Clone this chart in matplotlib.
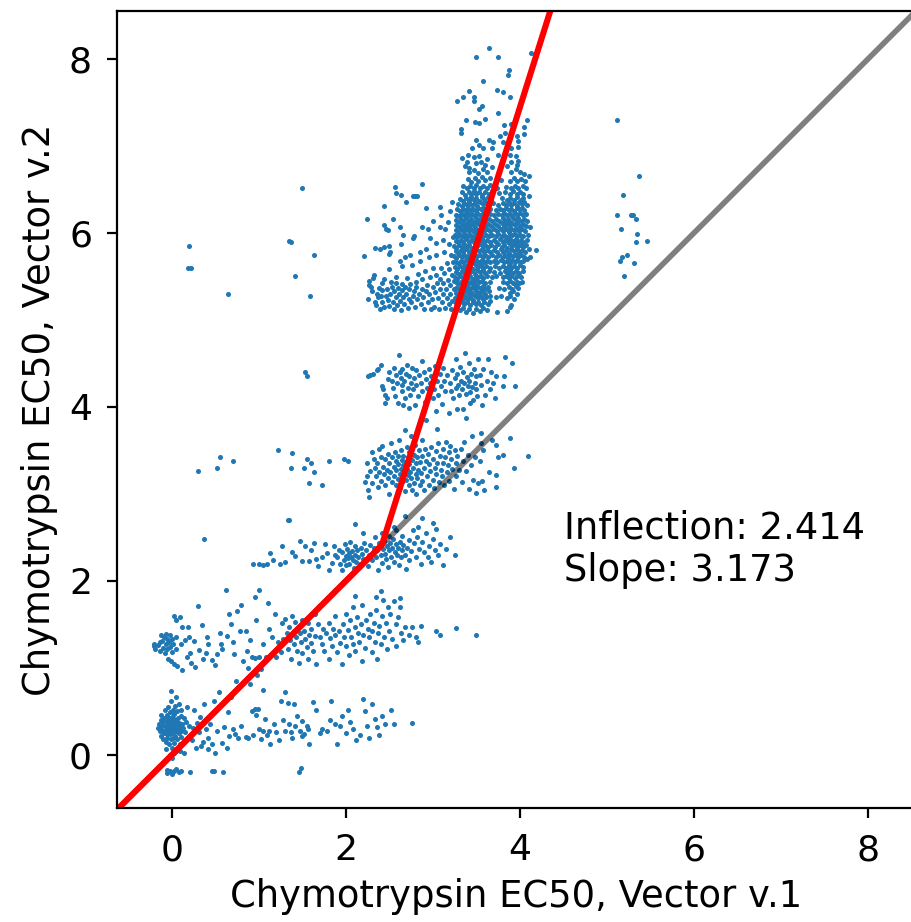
#!/usr/bin/env python3
"""Chymotrypsin EC50 comparison between the two vector versions."""

import matplotlib

matplotlib.use("Agg")
import matplotlib.pyplot as plt

# points, one list per band of the scatter
BAND_0 = [
    (-0.06,-0.17),(-0.05,-0.21),(-0.02,-0.19),(0.0,-0.22),(0.02,-0.18),(0.05,-0.16),(0.08,-0.2),(0.1,-0.18),(0.21,-0.2),(0.46,-0.19),(0.49,-0.18),(0.59,-0.2),(1.46,-0.2),(1.48,-0.15),
    (-0.16,0.31),(-0.15,0.35),(-0.14,0.27),(-0.13,0.4),(-0.13,0.22),(-0.12,0.33),(-0.12,0.46),(-0.11,0.29),(-0.1,0.38),(-0.1,0.18),(-0.09,0.25),(-0.09,0.43),(-0.08,0.33),(-0.08,0.52),(-0.07,0.29),(-0.07,0.15),(-0.06,0.39),(-0.06,0.24),(-0.05,0.46),(-0.05,0.32),(-0.05,0.2),(-0.04,0.36),(-0.04,0.27),(-0.04,0.55),(-0.03,0.42),(-0.03,0.31),(-0.03,0.12),(-0.02,0.24),(-0.02,0.35),(-0.02,0.49),(-0.01,0.29),(-0.01,0.4),(-0.01,0.18),(-0.01,0.62),(0.0,0.33),(0.0,0.25),(0.0,0.44),(0.0,0.08),(0.01,0.37),(0.01,0.29),(0.01,0.52),(0.01,0.2),(0.02,0.41),(0.02,0.33),(0.02,0.14),(0.03,0.27),(0.03,0.47),(0.03,0.36),(0.04,0.22),(0.04,0.56),(0.04,0.31),(0.05,0.4),(0.05,0.28),(0.05,0.05),(0.06,0.35),(0.06,0.18),(0.06,0.5),(0.07,0.3),(0.07,0.43),(0.08,0.25),(0.08,0.37),(0.08,0.59),(0.09,0.33),(0.09,0.12),(0.1,0.45),(0.1,0.28),(0.11,0.21),(0.11,0.52),(0.12,0.36),(0.13,0.31),(0.14,0.43),(0.14,0.02),(0.15,0.26),(0.16,0.38),(0.17,0.55),(-0.02,0.0),(0.0,-0.03),(0.03,0.02),(-0.07,0.07),(0.09,0.04),(-0.01,0.74),(0.05,0.67),
    (0.2,0.33),(0.23,0.17),(0.24,0.31),(0.26,0.52),(0.28,0.08),(0.29,0.37),(0.31,0.26),(0.32,0.44),(0.34,0.1),(0.36,0.15),(0.37,0.58),(0.39,0.3),(0.41,0.07),(0.42,0.19),(0.44,0.35),(0.46,0.12),(0.48,0.62),(0.5,0.02),(0.52,0.27),(0.54,0.72),(0.58,0.14),(0.6,0.32),(0.63,0.08),(0.64,0.49),(0.66,0.22),(0.7,0.3),(0.73,0.24),(0.76,0.19),(0.68,0.67),(0.74,0.85),(0.78,0.79),(0.8,0.33),(0.85,0.21),(0.88,0.19),(0.92,0.5),(0.93,0.23),(0.95,0.53),(0.97,0.46),(0.99,0.53),(1.0,0.3),(1.02,0.18),(1.05,0.27),(1.07,0.41),(1.09,0.23),(1.12,0.28),(1.13,0.12),(1.17,0.35),(1.2,0.26),(1.23,0.17),(1.25,0.62),(1.28,0.4),(1.3,0.27),(1.33,0.6),(1.35,0.36),(1.37,0.26),(1.38,0.19),(1.4,0.58),(1.42,0.33),(1.44,0.45),(1.47,0.27),(1.5,0.39),(1.52,0.24),(1.55,0.33),(1.57,0.3),(1.58,0.13),(1.62,0.61),(1.66,0.52),(1.7,0.25),(1.72,0.3),(1.78,0.27),(1.82,0.4),(1.83,0.62),(1.88,0.35),(1.9,0.12),(1.93,0.33),(1.96,0.45),(2.0,0.25),(2.02,0.52),(2.05,0.38),(2.08,0.3),(2.12,0.17),(2.16,0.23),(2.2,0.64),(2.22,0.5),(2.24,0.33),(2.26,0.2),(2.3,0.58),(2.34,0.41),(2.36,0.32),(2.38,0.23),(2.42,0.45),(2.45,0.36),(2.52,0.52),(2.55,0.36),(2.76,0.37),(1.5,0.22),(0.98,0.92),(1.3,0.72),(1.05,0.75),(0.9,0.82),
]

BAND_1 = [
    (-0.21,1.27),(-0.2,1.25),(-0.19,1.22),(-0.16,1.26),(-0.14,1.3),(-0.14,1.2),(-0.12,1.38),(-0.11,1.31),(-0.1,1.23),(-0.09,1.35),(-0.08,1.17),(-0.07,1.28),(-0.07,1.39),(-0.06,1.33),(-0.05,1.22),(-0.04,1.1),(-0.03,1.3),(-0.02,1.38),(-0.02,1.24),(-0.01,1.08),(0.0,1.33),(0.0,1.18),(0.01,1.28),(0.03,1.04),(0.05,1.36),(0.05,1.22),(0.06,1.02),(0.1,1.27),(0.12,0.98),(0.15,1.32),(0.18,1.12),(0.2,1.36),(0.22,1.06),(0.25,1.31),(0.27,1.01),(0.05,1.55),(0.03,1.6),(0.09,1.58),(0.12,1.47),(0.19,1.47),(0.21,1.17),(0.3,1.71),(0.31,1.21),(0.36,1.1),(0.39,1.17),(0.42,1.27),(0.4,1.36),(0.35,1.49),(0.46,1.09),(0.5,1.03),(0.52,1.16),(0.55,1.4),(0.56,1.28),(0.58,1.22),(0.62,1.89),(0.63,1.37),(0.66,1.62),(0.68,1.51),(0.7,1.3),(0.72,1.16),(0.75,1.65),(0.78,1.43),(0.8,1.72),(0.82,1.08),(0.85,1.43),(0.86,1.2),(0.88,1.0),(0.9,1.32),(0.92,1.13),(0.95,1.11),(0.97,1.55),(1.0,1.12),(1.02,0.99),(1.05,1.27),(1.08,1.13),(1.1,1.75),(1.12,1.45),(1.15,1.35),(1.18,1.62),(1.2,1.12),(1.22,1.3),(1.25,1.18),(1.27,1.52),(1.28,1.33),(1.3,1.56),(1.32,1.4),(1.33,1.22),(1.35,1.47),(1.36,1.32),(1.37,1.1),(1.38,1.6),(1.4,1.42),(1.4,1.28),(1.42,1.53),(1.43,1.35),(1.44,1.2),(1.45,1.46),(1.46,1.06),(1.47,1.4),(1.48,1.3),(1.5,1.55),(1.5,1.17),(1.52,1.43),(1.53,1.33),(1.55,1.24),(1.56,1.52),(1.57,1.1),(1.58,1.38),(1.6,1.45),(1.6,1.29),(1.62,1.2),(1.64,1.37),(1.65,1.62),(1.66,1.05),(1.68,1.5),(1.7,1.35),(1.72,1.27),(1.74,1.45),(1.75,1.2),(1.77,1.4),(1.8,1.52),(1.8,1.1),(1.82,1.34),(1.84,1.25),(1.85,1.45),(1.87,1.6),(1.88,1.38),(1.9,1.18),(1.92,1.42),(1.93,1.29),(1.95,1.05),(1.97,1.5),(1.98,1.35),(2.0,1.62),(2.0,1.25),(2.02,1.44),(2.03,1.15),(2.05,1.55),(2.06,1.36),(2.08,1.28),(2.08,1.7),(2.1,1.47),(2.11,1.2),(2.13,1.58),(2.14,1.4),(2.15,1.3),(2.17,1.5),(2.18,1.08),(2.19,1.72),(2.2,1.38),(2.22,1.23),(2.23,1.55),(2.25,1.45),(2.26,1.35),(2.28,1.62),(2.3,1.18),(2.3,1.42),(2.32,1.52),(2.33,1.3),(2.35,1.66),(2.36,1.1),(2.37,1.4),(2.38,1.48),(2.4,1.28),(2.41,1.6),(2.43,1.78),(2.44,1.36),(2.46,1.52),(2.47,1.22),(2.48,1.7),(2.5,1.42),(2.51,1.62),(2.53,1.33),(2.55,1.77),(2.57,1.5),(2.58,1.25),(2.6,1.58),(2.62,1.7),(2.63,1.4),(2.66,1.32),(2.68,1.47),(2.72,1.38),(2.76,1.47),(2.8,1.35),(2.83,1.3),(2.86,1.48),(3.03,1.42),(3.08,1.38),(2.1,1.83),(2.35,1.82),(2.62,1.8),(2.4,1.88),(3.27,1.46),(3.5,1.38),(1.0,1.9),(0.95,1.82),
]

BAND_2 = [
    (0.93,2.19),(1.0,2.19),(1.05,2.18),(1.09,2.19),(1.13,2.32),(1.16,2.24),(1.26,2.4),(1.35,2.7),(1.24,2.19),(1.3,2.22),(1.38,2.33),(1.41,2.29),(1.47,2.46),(1.5,2.23),(1.53,2.4),(1.58,2.23),(1.6,2.35),(1.63,2.43),(1.66,2.25),(1.68,2.17),(1.72,2.27),(1.76,2.42),(1.78,2.32),(1.81,2.13),(1.84,2.21),(1.86,2.4),(1.88,2.3),(1.9,2.28),(1.92,2.36),(1.93,2.2),(1.95,2.12),(1.96,2.33),(1.98,2.24),(1.99,2.42),(2.0,2.29),(2.0,2.18),(2.01,2.37),(2.02,2.26),(2.03,2.32),(2.04,2.2),(2.05,2.45),(2.06,2.28),(2.07,2.34),(2.08,2.24),(2.09,2.15),(2.1,2.3),(2.11,2.4),(2.12,2.22),(2.13,2.35),(2.14,2.28),(2.16,2.19),(2.17,2.38),(2.18,2.31),(2.2,2.25),(2.21,2.44),(2.23,2.36),(2.25,2.17),(2.26,2.3),(2.28,2.41),(2.3,2.24),(2.32,2.38),(2.33,2.5),(2.35,2.28),(2.36,2.35),(2.37,2.12),(2.38,2.43),(2.4,2.3),(2.41,2.55),(2.42,2.21),(2.43,2.37),(2.44,2.46),(2.45,2.31),(2.46,2.25),(2.47,2.4),(2.48,2.16),(2.49,2.52),(2.5,2.35),(2.51,2.44),(2.52,2.28),(2.53,2.38),(2.54,2.48),(2.55,2.22),(2.56,2.33),(2.57,2.42),(2.58,2.58),(2.59,2.3),(2.6,2.38),(2.61,2.18),(2.62,2.45),(2.63,2.27),(2.64,2.35),(2.65,2.52),(2.66,2.41),(2.68,2.3),(2.69,2.14),(2.7,2.38),(2.72,2.47),(2.73,2.24),(2.75,2.34),(2.77,2.58),(2.78,2.43),(2.8,2.28),(2.82,2.5),(2.84,2.37),(2.86,2.2),(2.88,2.45),(2.9,2.33),(2.92,2.55),(2.94,2.28),(2.96,2.4),(2.98,2.22),(3.0,2.48),(3.02,2.36),(3.04,2.6),(3.06,2.3),(3.08,2.42),(3.12,2.18),(3.15,2.37),(3.2,2.5),(3.25,2.3),(2.87,2.72),(2.83,2.62),(3.0,2.67),(2.68,2.75),(2.55,2.62),(2.1,2.65),(2.2,2.55),
]

BAND_3 = [
    (2.22,3.14),(2.24,3.2),(2.24,3.35),(2.25,3.05),(2.27,2.96),(2.28,3.26),(2.3,3.48),(2.3,3.13),(2.32,3.4),(2.33,3.3),(2.35,3.2),(2.36,3.36),(2.37,3.08),(2.38,3.52),(2.38,3.25),(2.4,3.42),(2.4,3.15),(2.42,3.55),(2.43,3.31),(2.44,3.23),(2.45,3.4),(2.45,3.1),(2.47,3.28),(2.48,3.46),(2.48,3.18),(2.5,3.35),(2.5,3.0),(2.51,3.25),(2.52,3.58),(2.53,3.42),(2.53,3.14),(2.55,3.31),(2.55,3.21),(2.56,3.48),(2.57,3.38),(2.58,3.1),(2.58,3.27),(2.6,3.17),(2.6,3.43),(2.6,3.34),(2.61,3.62),(2.62,3.23),(2.62,3.07),(2.63,3.5),(2.63,3.29),(2.64,3.39),(2.65,3.14),(2.65,3.2),(2.66,3.44),(2.66,3.33),(2.67,3.26),(2.68,3.74),(2.68,3.03),(2.69,3.37),(2.69,3.16),(2.7,3.54),(2.7,3.29),(2.71,3.42),(2.71,3.22),(2.72,3.1),(2.73,3.34),(2.73,3.48),(2.74,3.25),(2.75,3.66),(2.75,3.18),(2.76,3.39),(2.76,3.05),(2.77,3.3),(2.78,3.45),(2.78,3.13),(2.79,3.56),(2.8,3.23),(2.8,3.35),(2.81,3.0),(2.82,3.42),(2.82,3.18),(2.83,3.28),(2.84,3.5),(2.85,3.1),(2.85,3.37),(2.86,3.24),(2.87,3.62),(2.88,3.44),(2.88,3.15),(2.9,3.3),(2.9,3.04),(2.91,3.52),(2.92,3.38),(2.93,3.2),(2.94,3.46),(2.95,3.1),(2.96,3.34),(2.97,3.26),(2.98,3.54),(3.0,3.4),(3.0,3.16),(3.01,3.07),(3.02,3.3),(3.03,3.49),(3.04,3.23),(3.05,3.36),(3.06,3.58),(3.07,3.14),(3.08,3.44),(3.09,3.28),(3.1,3.2),(3.11,3.52),(3.12,3.35),(3.13,3.1),(3.14,3.42),(3.15,3.6),(3.16,3.25),(3.17,3.33),(3.18,3.48),(3.19,3.15),(3.2,3.55),(3.21,3.4),(3.22,3.29),(3.24,3.06),(3.25,3.5),(3.26,3.2),(3.27,3.36),(3.28,3.44),(3.3,3.27),(3.32,3.52),(3.33,3.14),(3.35,3.38),(3.36,3.6),(3.38,3.26),(3.4,3.45),(3.42,3.06),(3.44,3.33),(3.45,3.66),(3.46,3.16),(3.48,3.42),(3.5,3.01),(3.52,3.12),(3.54,3.38),(3.55,3.58),(3.56,3.15),(3.57,3.5),(3.59,3.05),(3.64,3.25),(3.72,3.22),(3.73,3.08),(3.75,3.42),(3.8,3.45),(3.73,3.56),(3.89,3.64),(3.93,3.3),(3.68,3.62),(4.09,3.43),(3.05,3.75),(3.38,3.87),(3.55,3.7),(2.92,3.85),
]

BAND_4 = [
    (2.25,4.35),(2.28,4.37),(2.31,4.38),(2.36,4.42),(2.37,4.44),(2.4,4.48),(2.41,4.24),(2.43,4.2),(2.45,4.14),(2.45,4.05),(2.47,4.1),(2.48,4.32),(2.5,4.4),(2.53,4.3),(2.54,4.22),(2.55,4.45),(2.56,4.13),(2.58,4.37),(2.59,4.27),(2.6,4.05),(2.61,4.6),(2.62,4.4),(2.63,4.33),(2.64,4.18),(2.65,4.43),(2.65,4.25),(2.66,4.02),(2.67,4.3),(2.68,4.1),(2.69,4.38),(2.7,4.48),(2.71,4.22),(2.72,3.99),(2.73,4.35),(2.74,4.14),(2.75,4.28),(2.76,4.45),(2.77,4.2),(2.78,4.33),(2.79,4.02),(2.8,4.42),(2.81,4.25),(2.83,4.12),(2.84,4.37),(2.86,4.27),(2.87,4.53),(2.88,4.18),(2.9,4.4),(2.91,4.06),(2.92,4.32),(2.93,4.22),(2.95,4.15),(2.96,4.43),(2.97,4.28),(2.98,4.36),(3.0,4.1),(3.01,4.2),(3.02,4.47),(3.03,3.95),(3.05,4.3),(3.06,4.14),(3.08,4.38),(3.09,4.24),(3.1,4.03),(3.11,4.45),(3.13,4.3),(3.14,4.18),(3.16,4.37),(3.18,3.93),(3.2,4.28),(3.21,4.18),(3.22,4.42),(3.23,4.1),(3.25,4.33),(3.26,4.22),(3.27,4.55),(3.28,4.38),(3.29,4.25),(3.3,4.14),(3.31,4.46),(3.32,4.3),(3.33,4.2),(3.34,3.98),(3.35,4.4),(3.36,4.27),(3.37,4.62),(3.38,4.15),(3.39,4.34),(3.4,4.24),(3.41,4.5),(3.42,4.3),(3.43,4.17),(3.44,4.38),(3.45,4.23),(3.46,4.08),(3.47,4.44),(3.48,4.28),(3.49,4.35),(3.5,4.2),(3.51,4.12),(3.52,4.55),(3.54,4.37),(3.55,4.25),(3.56,4.02),(3.58,4.44),(3.6,4.14),(3.62,4.3),(3.63,4.55),(3.65,4.2),(3.67,4.4),(3.69,4.28),(3.71,4.1),(3.73,4.36),(3.83,4.57),(3.91,4.5),(3.82,4.35),(3.81,4.24),(3.94,4.24),(3.43,4.05),(3.28,3.97),
]

FOOT = [
    (2.21,5.73),(2.26,5.4),(2.27,5.45),(2.25,5.24),(2.29,5.38),(2.3,5.33),(2.31,5.48),(2.32,5.52),(2.34,5.2),(2.35,5.17),(2.36,5.3),(2.37,5.26),(2.38,5.37),(2.39,5.12),(2.4,5.27),(2.41,5.42),(2.42,5.34),(2.42,5.21),(2.44,5.15),(2.44,5.47),(2.46,5.28),(2.47,5.36),(2.48,5.23),(2.49,5.16),(2.5,5.58),(2.51,5.3),(2.52,5.43),(2.53,5.38),(2.54,5.2),(2.55,5.13),(2.55,5.33),(2.57,5.26),(2.58,5.42),(2.58,5.49),(2.59,5.17),(2.6,5.37),(2.61,5.3),(2.62,5.22),(2.63,5.11),(2.64,5.41),(2.64,5.34),(2.65,5.62),(2.66,5.26),(2.67,5.18),(2.68,5.38),(2.69,5.3),(2.7,5.48),(2.71,5.14),(2.72,5.24),(2.73,5.35),(2.74,5.41),(2.75,5.2),(2.76,5.63),(2.77,5.28),(2.78,5.33),(2.79,5.15),(2.8,5.44),(2.81,5.38),(2.82,5.24),(2.83,5.53),(2.84,5.3),(2.85,5.68),(2.86,5.18),(2.87,5.47),(2.88,5.36),(2.89,5.26),(2.9,5.12),(2.91,5.56),(2.92,5.33),(2.93,5.4),(2.94,5.2),(2.95,5.72),(2.96,5.3),(2.97,5.49),(2.98,5.13),(2.99,5.24),(3.0,5.38),(3.0,5.6),(3.01,5.15),(3.02,5.32),(3.03,5.52),(3.04,5.74),(3.05,5.42),(3.06,5.25),(3.07,5.12),(3.08,5.47),(3.08,5.35),(3.09,5.6),(3.1,5.2),(3.11,5.3),(3.12,5.42),(3.13,5.78),(3.13,5.54),(3.14,5.14),(3.15,5.35),(3.16,5.25),(3.16,5.65),(3.17,5.46),(3.18,5.87),(3.18,5.18),(3.19,5.58),(3.2,5.3),(3.2,5.4),(3.21,5.75),(3.21,5.12),(3.22,5.52),(3.22,5.22),(3.23,5.95),(3.23,5.66),(3.24,5.35),(3.24,5.45),
    (2.56,6.53),(2.57,6.46),(2.63,6.43),(2.88,6.56),(2.77,6.42),(2.79,6.42),(2.82,6.42),(2.69,6.35),(2.44,6.31),(2.92,6.29),(3.08,6.3),(3.09,6.21),(2.24,6.16),(2.54,6.16),(3.0,6.14),(2.44,6.09),(2.62,6.07),(2.88,6.07),(2.94,6.04),(3.08,6.07),(2.46,6.04),(2.48,6.03),(2.66,5.98),(2.78,5.96),(2.77,5.94),(2.97,5.94),(2.63,5.87),(2.49,5.85),(2.44,5.84),(2.39,5.81),(2.33,5.83),(2.51,5.78),(2.5,5.76),(3.04,5.88),(3.12,5.92),(3.14,6.05),(3.17,6.12),(3.2,6.25),(3.22,6.35),(2.92,5.82),(2.74,5.75),(2.68,5.72),(2.62,5.68),(2.85,5.78),
]

BLOB = [
    (3.27,5.13),(3.31,5.11),(3.34,5.14),(3.38,5.09),(3.42,5.12),(3.46,5.08),(3.5,5.13),(3.54,5.1),(3.58,5.14),(3.62,5.11),(3.74,5.09),(3.85,5.1),(3.88,5.15),(3.9,5.17),
    (3.26,5.19),(3.29,5.17),(3.33,5.2),(3.36,5.18),(3.39,5.21),(3.43,5.17),(3.46,5.2),(3.49,5.18),(3.52,5.21),(3.55,5.17),(3.59,5.2),(3.63,5.18),(3.66,5.22),
    (3.25,5.25),(3.28,5.23),(3.31,5.26),(3.34,5.24),(3.37,5.27),(3.4,5.24),(3.43,5.26),(3.46,5.23),(3.49,5.27),(3.52,5.25),(3.55,5.27),(3.58,5.24),(3.61,5.26),(3.65,5.28),(3.72,5.26),(3.78,5.27),(3.85,5.25),(3.89,5.27),(3.93,5.24),
    (3.26,5.31),(3.29,5.29),(3.32,5.32),(3.35,5.3),(3.38,5.33),(3.41,5.3),(3.44,5.32),(3.47,5.29),(3.5,5.33),(3.53,5.31),(3.56,5.33),(3.6,5.3),(3.64,5.33),(3.88,5.31),(3.92,5.33),(3.96,5.3),
    (3.27,5.37),(3.3,5.35),(3.33,5.38),(3.36,5.36),(3.39,5.39),(3.42,5.36),(3.45,5.38),(3.48,5.35),(3.51,5.39),(3.54,5.37),(3.57,5.39),(3.6,5.36),(3.63,5.38),(3.76,5.37),(3.82,5.36),(3.87,5.38),(3.91,5.36),(3.95,5.39),(3.98,5.37),
    (3.26,5.43),(3.29,5.41),(3.32,5.44),(3.35,5.42),(3.38,5.45),(3.41,5.42),(3.44,5.44),(3.47,5.41),(3.5,5.45),(3.53,5.43),(3.56,5.45),(3.6,5.42),(3.65,5.44),(3.8,5.43),(3.85,5.42),(3.88,5.45),(3.92,5.42),(3.96,5.44),(3.99,5.42),(4.02,5.44),
    (3.25,5.49),(3.28,5.47),(3.31,5.5),(3.34,5.48),(3.37,5.51),(3.4,5.48),(3.43,5.5),(3.46,5.47),(3.49,5.51),(3.52,5.49),(3.55,5.51),(3.58,5.48),(3.62,5.5),(3.68,5.49),(3.72,5.5),(3.81,5.49),(3.84,5.51),(3.87,5.48),(3.9,5.5),(3.94,5.48),(3.97,5.51),(4.01,5.49),
    (3.27,5.55),(3.3,5.53),(3.33,5.56),(3.36,5.54),(3.39,5.57),(3.42,5.54),(3.45,5.56),(3.48,5.53),(3.51,5.57),(3.54,5.55),(3.57,5.57),(3.6,5.54),(3.64,5.56),(3.7,5.55),(3.77,5.54),(3.83,5.56),(3.86,5.54),(3.89,5.57),(3.92,5.54),(3.95,5.56),(3.99,5.54),(4.03,5.56),
    (3.25,5.61),(3.28,5.59),(3.31,5.62),(3.34,5.6),(3.37,5.63),(3.4,5.6),(3.43,5.62),(3.46,5.59),(3.49,5.63),(3.52,5.61),(3.55,5.63),(3.58,5.6),(3.61,5.62),(3.65,5.6),(3.71,5.62),(3.76,5.6),(3.8,5.62),(3.84,5.6),(3.87,5.63),(3.9,5.6),(3.93,5.62),(3.96,5.6),(4.0,5.63),(4.04,5.61),
    (3.26,5.67),(3.29,5.65),(3.32,5.68),(3.35,5.66),(3.38,5.69),(3.41,5.66),(3.44,5.68),(3.47,5.65),(3.5,5.69),(3.53,5.67),(3.56,5.69),(3.59,5.66),(3.62,5.68),(3.66,5.66),(3.7,5.68),(3.74,5.66),(3.78,5.69),(3.82,5.66),(3.85,5.68),(3.88,5.65),(3.91,5.69),(3.94,5.67),(3.97,5.69),(4.0,5.66),(4.04,5.68),(4.08,5.7),
    (3.24,5.73),(3.27,5.71),(3.3,5.74),(3.33,5.72),(3.36,5.75),(3.39,5.72),(3.42,5.74),(3.45,5.71),(3.48,5.75),(3.51,5.73),(3.54,5.75),(3.57,5.72),(3.6,5.74),(3.63,5.72),(3.68,5.74),(3.72,5.72),(3.76,5.75),(3.8,5.72),(3.83,5.74),(3.86,5.71),(3.89,5.75),(3.92,5.73),(3.95,5.75),(3.98,5.72),(4.01,5.74),(4.05,5.72),(4.12,5.72),
    (3.26,5.79),(3.29,5.77),(3.32,5.8),(3.35,5.78),(3.38,5.81),(3.41,5.78),(3.44,5.8),(3.47,5.77),(3.5,5.81),(3.53,5.79),(3.56,5.81),(3.59,5.78),(3.62,5.8),(3.66,5.78),(3.7,5.8),(3.74,5.78),(3.78,5.81),(3.81,5.78),(3.84,5.8),(3.87,5.77),(3.9,5.81),(3.93,5.79),(3.96,5.81),(3.99,5.78),(4.02,5.8),(4.06,5.78),(4.1,5.81),(4.18,5.8),
    (3.24,5.85),(3.27,5.83),(3.3,5.86),(3.33,5.84),(3.36,5.87),(3.39,5.84),(3.42,5.86),(3.45,5.83),(3.48,5.87),(3.51,5.85),(3.54,5.87),(3.57,5.84),(3.6,5.86),(3.63,5.84),(3.67,5.86),(3.71,5.84),(3.75,5.87),(3.79,5.84),(3.82,5.86),(3.85,5.83),(3.88,5.87),(3.91,5.85),(3.94,5.87),(3.97,5.84),(4.0,5.86),(4.03,5.84),(4.07,5.86),
    (3.26,5.91),(3.29,5.89),(3.32,5.92),(3.35,5.9),(3.38,5.93),(3.41,5.9),(3.44,5.92),(3.47,5.89),(3.5,5.93),(3.53,5.91),(3.56,5.93),(3.59,5.9),(3.62,5.92),(3.66,5.9),(3.7,5.92),(3.73,5.9),(3.77,5.93),(3.8,5.9),(3.83,5.92),(3.86,5.89),(3.89,5.93),(3.92,5.91),(3.95,5.93),(3.98,5.9),(4.01,5.92),(4.04,5.9),(4.08,5.92),
    (3.25,5.97),(3.28,5.95),(3.31,5.98),(3.34,5.96),(3.37,5.99),(3.4,5.96),(3.43,5.98),(3.46,5.95),(3.49,5.99),(3.52,5.97),(3.55,5.99),(3.58,5.96),(3.61,5.98),(3.64,5.96),(3.68,5.98),(3.72,5.96),(3.75,5.99),(3.79,5.96),(3.82,5.98),(3.85,5.95),(3.88,5.99),(3.91,5.97),(3.94,5.99),(3.97,5.96),(4.0,5.98),(4.04,5.96),(4.09,5.98),
    (3.26,6.03),(3.29,6.01),(3.32,6.04),(3.35,6.02),(3.38,6.05),(3.41,6.02),(3.44,6.04),(3.47,6.01),(3.5,6.05),(3.53,6.03),(3.56,6.05),(3.59,6.02),(3.62,6.04),(3.66,6.02),(3.7,6.04),(3.74,6.02),(3.78,6.05),(3.81,6.02),(3.84,6.04),(3.87,6.01),(3.9,6.05),(3.93,6.03),(3.96,6.05),(3.99,6.02),(4.02,6.04),(4.06,6.02),(4.12,6.07),
    (3.27,6.09),(3.3,6.07),(3.33,6.1),(3.36,6.08),(3.39,6.11),(3.42,6.08),(3.45,6.1),(3.48,6.07),(3.51,6.11),(3.54,6.09),(3.57,6.11),(3.6,6.08),(3.63,6.1),(3.67,6.08),(3.71,6.1),(3.75,6.08),(3.79,6.11),(3.82,6.08),(3.85,6.1),(3.88,6.07),(3.91,6.11),(3.94,6.09),(3.97,6.11),(4.0,6.08),(4.03,6.1),(4.07,6.08),
    (3.26,6.15),(3.29,6.13),(3.32,6.16),(3.35,6.14),(3.38,6.17),(3.41,6.14),(3.44,6.16),(3.47,6.13),(3.5,6.17),(3.53,6.15),(3.56,6.17),(3.6,6.14),(3.64,6.16),(3.68,6.14),(3.72,6.16),(3.76,6.14),(3.8,6.17),(3.83,6.14),(3.86,6.16),(3.89,6.13),(3.92,6.17),(3.95,6.15),(3.98,6.17),(4.01,6.14),(4.05,6.16),(4.08,6.14),
    (3.27,6.21),(3.3,6.19),(3.33,6.22),(3.36,6.2),(3.39,6.23),(3.42,6.2),(3.45,6.22),(3.48,6.19),(3.51,6.23),(3.54,6.21),(3.57,6.23),(3.61,6.2),(3.65,6.22),(3.7,6.2),(3.75,6.22),(3.79,6.2),(3.82,6.23),(3.85,6.2),(3.88,6.22),(3.91,6.19),(3.94,6.23),(3.97,6.21),(4.0,6.23),(4.03,6.2),(4.07,6.22),
    (3.28,6.27),(3.31,6.25),(3.34,6.28),(3.37,6.26),(3.4,6.29),(3.43,6.26),(3.46,6.28),(3.49,6.25),(3.52,6.29),(3.55,6.27),(3.58,6.29),(3.62,6.26),(3.66,6.28),(3.72,6.26),(3.77,6.28),(3.81,6.26),(3.84,6.29),(3.87,6.26),(3.9,6.28),(3.93,6.25),(3.96,6.29),(3.99,6.27),(4.02,6.29),(4.05,6.26),
    (3.29,6.33),(3.33,6.31),(3.36,6.34),(3.39,6.32),(3.42,6.35),(3.45,6.32),(3.48,6.34),(3.51,6.31),(3.54,6.35),(3.57,6.33),(3.6,6.35),(3.64,6.32),(3.69,6.34),(3.75,6.32),(3.8,6.34),(3.84,6.32),(3.87,6.35),(3.9,6.32),(3.93,6.34),(3.96,6.31),(3.99,6.35),(4.02,6.33),(4.05,6.35),(4.08,6.32),
    (3.31,6.39),(3.35,6.37),(3.38,6.4),(3.41,6.38),(3.44,6.41),(3.47,6.38),(3.5,6.4),(3.53,6.37),(3.56,6.41),(3.59,6.39),(3.63,6.41),(3.67,6.38),(3.79,6.4),(3.85,6.38),(3.89,6.4),(3.93,6.38),(3.97,6.41),(4.01,6.38),(4.04,6.4),(4.1,6.42),
    (3.33,6.47),(3.37,6.44),(3.41,6.47),(3.44,6.45),(3.47,6.48),(3.5,6.45),(3.53,6.47),(3.56,6.44),(3.6,6.47),(3.64,6.45),(3.68,6.48),(3.76,6.46),(3.83,6.47),(3.88,6.45),(3.92,6.48),(3.96,6.45),(4.0,6.47),(4.04,6.45),
    (3.35,6.54),(3.39,6.51),(3.43,6.54),(3.47,6.52),(3.5,6.55),(3.54,6.52),(3.58,6.54),(3.62,6.51),(3.66,6.55),(3.74,6.52),(3.84,6.53),(3.9,6.51),(3.94,6.54),(3.98,6.52),(4.03,6.54),(4.07,6.52),
    (3.4,6.62),(3.44,6.59),(3.48,6.63),(3.52,6.6),(3.56,6.64),(3.6,6.61),(3.65,6.63),(3.78,6.61),(3.89,6.6),(3.93,6.63),(3.97,6.6),(4.01,6.62),(4.06,6.6),(4.1,6.65),
    (3.42,6.7),(3.47,6.72),(3.52,6.69),(3.57,6.73),(3.62,6.7),(3.9,6.7),(3.95,6.73),(4.0,6.7),(4.05,6.68),(3.37,6.77),(3.39,6.82),(3.41,6.75),(3.5,6.8),(3.55,6.82),(3.6,6.78),(3.68,6.76),(3.85,6.77),(3.9,6.82),(3.97,6.78),(3.33,6.86),(3.4,6.9),(3.47,6.87),(3.53,6.88),(3.62,6.85),(3.75,6.9),(3.88,6.9),(3.95,6.88),(3.98,6.83),
]

TOP_SPARSE = [
    (3.64,8.13),(3.49,8.02),(3.75,8.02),(4.13,8.07),(3.87,7.87),(3.86,7.82),(3.57,7.75),(3.74,7.64),(3.8,7.62),(3.41,7.63),(3.34,7.56),(3.28,7.52),(3.47,7.56),(3.47,7.52),(3.89,7.56),(3.56,7.46),(3.53,7.42),(3.75,7.38),(3.38,7.3),(3.48,7.27),(3.53,7.26),(3.6,7.31),(3.82,7.24),(3.9,7.25),(4.08,7.3),(4.05,7.22),(3.32,7.19),(3.32,7.15),(3.83,7.15),(3.77,7.11),(4.05,7.14),(3.97,7.11),(3.49,7.07),(3.98,7.06),(3.64,7.07),(3.69,7.05),(3.81,7.04),(3.53,7.01),(3.45,6.98),(3.57,6.98),(3.68,6.97),(3.9,6.97),(3.98,6.99),
]

RIGHT_GROUP = [
    (5.11,7.3),(5.37,6.65),(5.18,6.44),(5.11,6.2),(5.28,6.21),(5.3,6.21),(5.33,6.16),(5.16,6.04),(5.35,5.99),(5.33,5.89),(5.46,5.91),(5.23,5.74),(5.17,5.72),(5.15,5.68),(5.31,5.65),(5.2,5.51),
]

LEFT_SPARSE = [
    (0.2,5.85),(0.19,5.6),(0.22,5.6),(0.64,5.3),(1.35,5.91),(1.37,5.9),(1.42,5.5),(1.63,5.74),(1.59,5.28),(1.5,6.52),(1.53,4.4),(1.55,4.35),
    (0.3,3.26),(0.52,3.3),(0.55,3.42),(0.7,3.38),(1.22,3.5),(1.38,3.47),(1.37,3.3),(1.52,3.3),(1.55,3.4),(1.6,3.36),(1.63,3.25),(1.8,3.38),(1.58,3.12),(1.98,3.4),(2.02,3.38),(1.72,3.1),(0.37,2.48),(1.33,2.7),
]

BANDS = [BAND_0, BAND_1, BAND_2, BAND_3, BAND_4, FOOT, BLOB, TOP_SPARSE, RIGHT_GROUP, LEFT_SPARSE]

DIAG_X = [-0.63, 8.55]
DIAG_Y = [-0.63, 8.55]
FIT_X = [-0.63, 2.414, 4.348]
FIT_Y = [-0.63, 2.414, 8.55]

TICKS = [0, 2, 4, 6, 8]

all_points = [pt for band in BANDS for pt in band]
xs = [pt[0] for pt in all_points]
ys = [pt[1] for pt in all_points]

fig = plt.figure(figsize=(911 / 200, 922 / 200), dpi=200)
ax = fig.add_axes([117 / 911, 114 / 922, 799 / 911, 797 / 922])

ax.scatter(xs, ys, s=3.3, color="#1f77b4", linewidths=0)
ax.plot(DIAG_X, DIAG_Y, color="k", alpha=0.5, lw=2)
ax.plot(FIT_X, FIT_Y, color="r", lw=2.2)

ax.set_xlim(-0.63, 8.55)
ax.set_ylim(-0.61, 8.55)
ax.set_xticks(TICKS)
ax.set_yticks(TICKS)
ax.tick_params(labelsize=13, pad=5.5)
ax.set_xlabel("Chymotrypsin EC50, Vector v.1", fontsize=13.3)
ax.set_ylabel("Chymotrypsin EC50, Vector v.2", fontsize=13.3)
ax.text(4.5, 2.0, "Inflection: 2.414\nSlope: 3.173", fontsize=13.3, va="baseline")

fig.savefig("out.png", dpi=200)
plt.close(fig)
